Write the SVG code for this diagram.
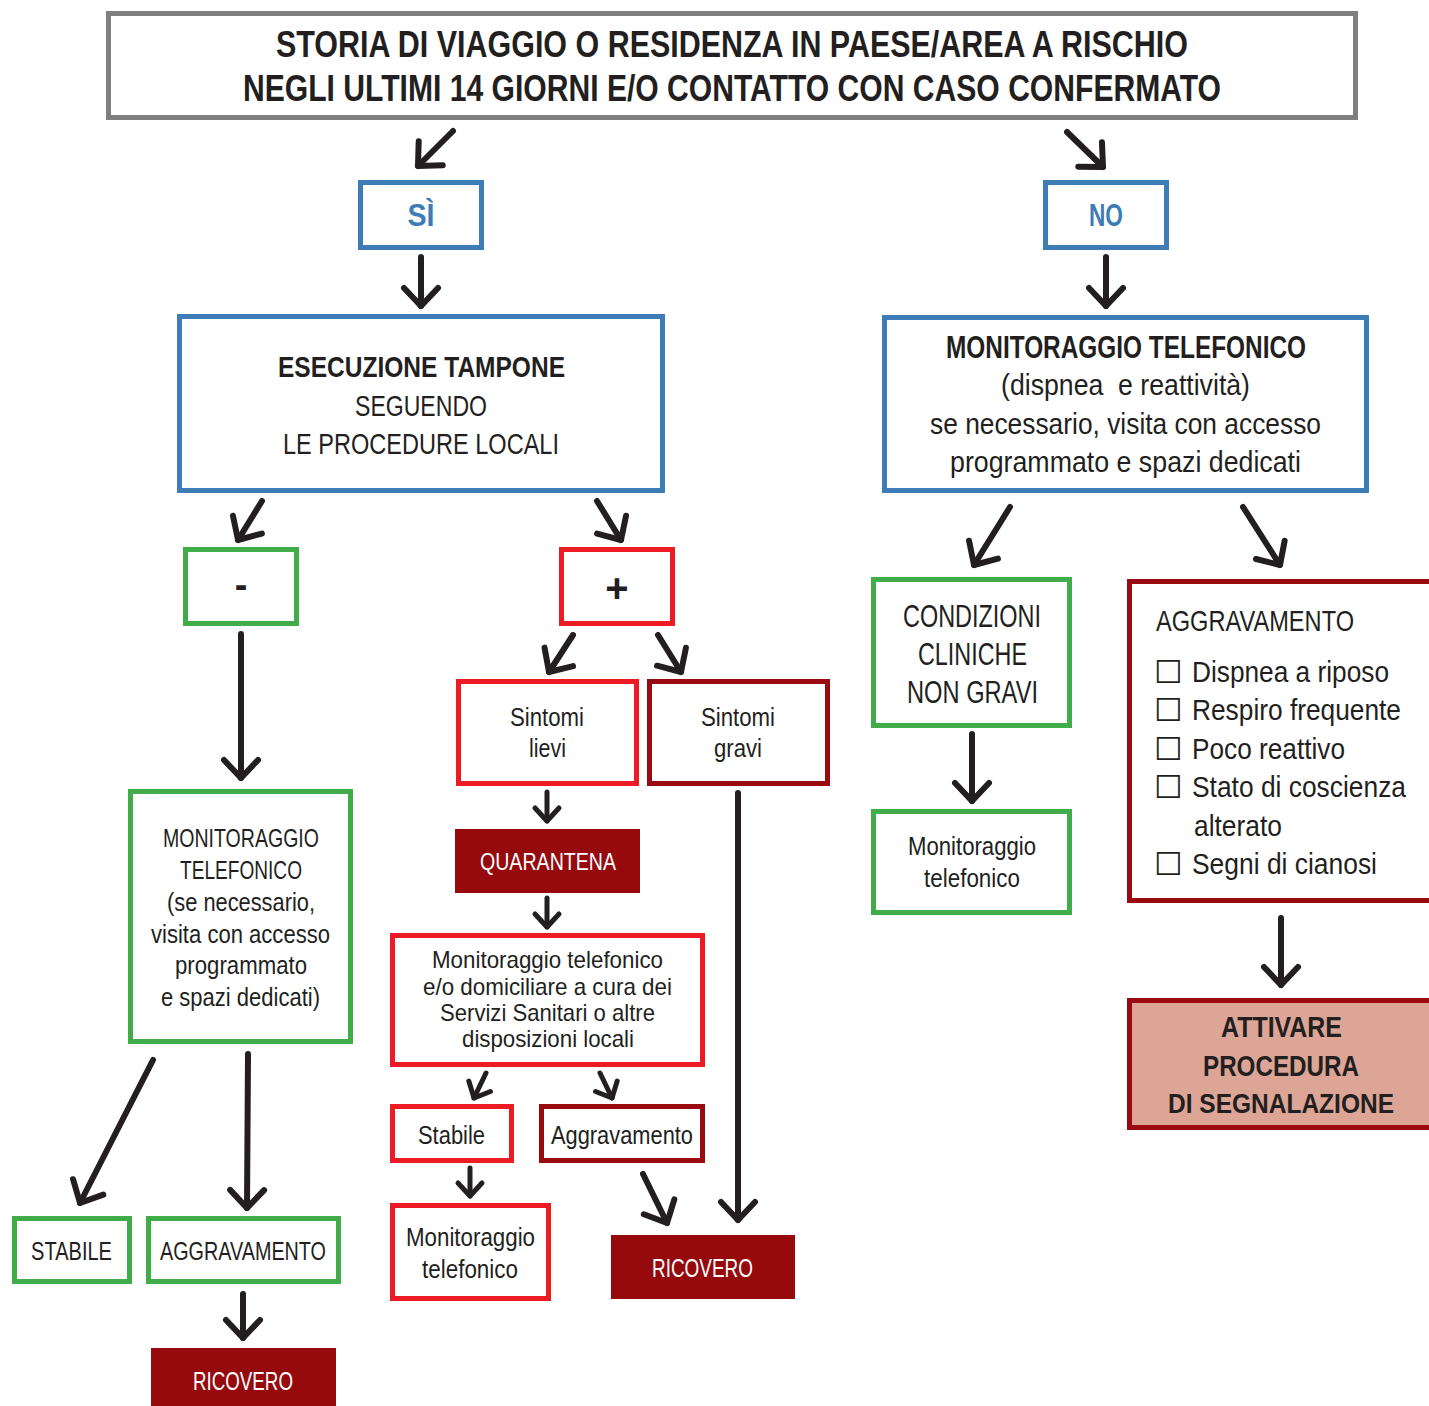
<svg xmlns="http://www.w3.org/2000/svg" width="1429" height="1406" viewBox="0 0 1429 1406">
<defs>
<style>
text{font-family:"Liberation Sans Narrow","Liberation Sans",Arial,sans-serif;fill:#231f20;text-anchor:middle;}
.b{font-weight:bold;}
.wt{fill:#ffffff;}
.bl{fill:#3d7cb6;}
.st{text-anchor:start;}
.cb{font-family:"DejaVu Sans",sans-serif;text-anchor:start;}
.box{fill:#ffffff;stroke-width:5;}
.gray{stroke:#7f7f7f;}
.blue{stroke:#3d7cb6;}
.green{stroke:#41ad4a;}
.red{stroke:#ed1c24;}
.dred{stroke:#990b11;}
.fillr{fill:#960a0e;}
.salmon{fill:#dca596;stroke:#990b11;stroke-width:5;}
.ar{fill:none;stroke:#231f20;stroke-width:6;stroke-linecap:round;marker-end:url(#ah);}
.ars{fill:none;stroke:#231f20;stroke-width:5;stroke-linecap:round;marker-end:url(#ahs);}
</style>
<marker id="ah" viewBox="-23 -23 28 46" refX="0" refY="0" markerWidth="28" markerHeight="46" markerUnits="userSpaceOnUse" orient="auto">
<path d="M-18,-17 L0,0 L-18,17" fill="none" stroke="#231f20" stroke-width="6" stroke-linecap="round" stroke-linejoin="round"/>
</marker>
<marker id="ahs" viewBox="-18 -18 22 36" refX="0" refY="0" markerWidth="22" markerHeight="36" markerUnits="userSpaceOnUse" orient="auto">
<path d="M-13,-12 L0,0 L-13,12" fill="none" stroke="#231f20" stroke-width="5" stroke-linecap="round" stroke-linejoin="round"/>
</marker>
</defs>
<rect width="1429" height="1406" fill="#ffffff"/>

<g id="connectors">
<line class="ar" x1="453" y1="131" x2="418" y2="166"/>
<line class="ar" x1="1067" y1="132" x2="1103" y2="167"/>
<line class="ar" x1="421" y1="257" x2="421" y2="306"/>
<line class="ar" x1="1106" y1="257" x2="1106" y2="306"/>
<line class="ar" x1="262" y1="501" x2="238" y2="540"/>
<line class="ar" x1="597" y1="501" x2="621" y2="540"/>
<line class="ar" x1="241" y1="634" x2="241" y2="778"/>
<line class="ar" x1="573" y1="635" x2="549" y2="672"/>
<line class="ar" x1="658" y1="635" x2="681" y2="672"/>
<line class="ars" x1="547" y1="792" x2="547" y2="821"/>
<line class="ars" x1="547" y1="898" x2="547" y2="927"/>
<line class="ar" x1="738" y1="793" x2="738" y2="1220"/>
<line class="ars" x1="486" y1="1073" x2="474" y2="1098"/>
<line class="ars" x1="600" y1="1073" x2="612" y2="1098"/>
<line class="ars" x1="470" y1="1168" x2="470" y2="1196"/>
<line class="ar" x1="643" y1="1174" x2="667" y2="1223"/>
<line class="ar" x1="153" y1="1060" x2="80" y2="1203"/>
<line class="ar" x1="248" y1="1054" x2="247" y2="1208"/>
<line class="ar" x1="243" y1="1294" x2="243" y2="1338"/>
<line class="ar" x1="1010" y1="507" x2="974" y2="565"/>
<line class="ar" x1="1243" y1="507" x2="1280" y2="565"/>
<line class="ar" x1="972" y1="734" x2="972" y2="801"/>
<line class="ar" x1="1281" y1="918" x2="1281" y2="985"/>
</g>

<g id="n-top">
<rect class="box gray" x="108.5" y="13.5" width="1247" height="104"/>
<text class="b" x="732" y="57" font-size="36" textLength="912" lengthAdjust="spacingAndGlyphs">STORIA DI VIAGGIO O RESIDENZA IN PAESE/AREA A RISCHIO</text>
<text class="b" x="732" y="101" font-size="36" textLength="978" lengthAdjust="spacingAndGlyphs">NEGLI ULTIMI 14 GIORNI E/O CONTATTO CON CASO CONFERMATO</text>
</g>

<g id="n-si">
<rect class="box blue" x="360.5" y="182.5" width="121" height="65"/>
<text class="b bl" x="421" y="226" font-size="31" textLength="27" lengthAdjust="spacingAndGlyphs">SÌ</text>
</g>

<g id="n-no">
<rect class="box blue" x="1045.5" y="182.5" width="121" height="65"/>
<text class="b bl" x="1106" y="226" font-size="31" textLength="34" lengthAdjust="spacingAndGlyphs">NO</text>
</g>

<g id="n-tampone">
<rect class="box blue" x="179.5" y="316.5" width="483" height="174"/>
<text class="b" x="421.5" y="377" font-size="30" textLength="287" lengthAdjust="spacingAndGlyphs">ESECUZIONE TAMPONE</text>
<text x="421" y="416" font-size="30" textLength="132" lengthAdjust="spacingAndGlyphs">SEGUENDO</text>
<text x="421" y="454" font-size="30" textLength="276" lengthAdjust="spacingAndGlyphs">LE PROCEDURE LOCALI</text>
</g>

<g id="n-monit-tel">
<rect class="box blue" x="884.5" y="317.5" width="482" height="173"/>
<text class="b" x="1126" y="358" font-size="31" textLength="360" lengthAdjust="spacingAndGlyphs">MONITORAGGIO TELEFONICO</text>
<text x="1125.5" y="395" font-size="30" textLength="249" lengthAdjust="spacingAndGlyphs" xml:space="preserve">(dispnea  e reattività)</text>
<text x="1125.5" y="434" font-size="30" textLength="391" lengthAdjust="spacingAndGlyphs">se necessario, visita con accesso</text>
<text x="1125.5" y="472" font-size="30" textLength="351" lengthAdjust="spacingAndGlyphs">programmato e spazi dedicati</text>
</g>

<g id="n-neg">
<rect class="box green" x="185.5" y="549.5" width="111" height="74"/>
<text class="b" x="241" y="598" font-size="38">-</text>
</g>

<g id="n-pos">
<rect class="box red" x="561.5" y="549.5" width="111" height="74"/>
<text class="b" x="617" y="602" font-size="40">+</text>
</g>

<g id="n-lievi">
<rect class="box red" x="458.5" y="681.5" width="178" height="102"/>
<text x="547" y="726" font-size="25" textLength="74" lengthAdjust="spacingAndGlyphs">Sintomi</text>
<text x="547.5" y="757" font-size="25" textLength="37" lengthAdjust="spacingAndGlyphs">lievi</text>
</g>

<g id="n-gravi">
<rect class="box dred" x="649.5" y="681.5" width="178" height="102"/>
<text x="738" y="726" font-size="25" textLength="74" lengthAdjust="spacingAndGlyphs">Sintomi</text>
<text x="738" y="757" font-size="25" textLength="48" lengthAdjust="spacingAndGlyphs">gravi</text>
</g>

<g id="n-quarantena">
<rect class="fillr" x="455" y="829" width="185" height="64"/>
<text class="wt" x="548" y="870" font-size="24" textLength="136" lengthAdjust="spacingAndGlyphs">QUARANTENA</text>
</g>

<g id="n-monit-dom">
<rect class="box red" x="392.5" y="935.5" width="310" height="129"/>
<text x="547.5" y="968" font-size="24" textLength="231" lengthAdjust="spacingAndGlyphs">Monitoraggio telefonico</text>
<text x="547.5" y="995" font-size="24" textLength="249" lengthAdjust="spacingAndGlyphs">e/o domiciliare a cura dei</text>
<text x="547.5" y="1021" font-size="24" textLength="215" lengthAdjust="spacingAndGlyphs">Servizi Sanitari o altre</text>
<text x="548" y="1047" font-size="24" textLength="172" lengthAdjust="spacingAndGlyphs">disposizioni locali</text>
</g>

<g id="n-stabile-r">
<rect class="box red" x="392.5" y="1106.5" width="119" height="54"/>
<text x="451.5" y="1144" font-size="25" textLength="67" lengthAdjust="spacingAndGlyphs">Stabile</text>
</g>

<g id="n-aggrav-r">
<rect class="box dred" x="541.5" y="1106.5" width="161" height="54"/>
<text x="622" y="1144" font-size="25" textLength="142" lengthAdjust="spacingAndGlyphs">Aggravamento</text>
</g>

<g id="n-monit-r">
<rect class="box red" x="392.5" y="1205.5" width="156" height="93"/>
<text x="470.5" y="1246" font-size="25" textLength="129" lengthAdjust="spacingAndGlyphs">Monitoraggio</text>
<text x="470" y="1278" font-size="25" textLength="96" lengthAdjust="spacingAndGlyphs">telefonico</text>
</g>

<g id="n-ricovero-r">
<rect class="fillr" x="611" y="1235" width="184" height="64"/>
<text class="wt" x="702.5" y="1277" font-size="25" textLength="101" lengthAdjust="spacingAndGlyphs">RICOVERO</text>
</g>

<g id="n-monit-g">
<rect class="box green" x="130.5" y="791.5" width="220" height="250"/>
<text x="241" y="847" font-size="25" textLength="156" lengthAdjust="spacingAndGlyphs">MONITORAGGIO</text>
<text x="241" y="879" font-size="25" textLength="122" lengthAdjust="spacingAndGlyphs">TELEFONICO</text>
<text x="241" y="911" font-size="25" textLength="148" lengthAdjust="spacingAndGlyphs">(se necessario,</text>
<text x="240.5" y="943" font-size="25" textLength="179" lengthAdjust="spacingAndGlyphs">visita con accesso</text>
<text x="241" y="974" font-size="25" textLength="132" lengthAdjust="spacingAndGlyphs">programmato</text>
<text x="240.5" y="1006" font-size="25" textLength="159" lengthAdjust="spacingAndGlyphs">e spazi dedicati)</text>
</g>

<g id="n-stabile-g">
<rect class="box green" x="14.5" y="1218.5" width="115" height="63"/>
<text x="71.5" y="1260" font-size="25" textLength="81" lengthAdjust="spacingAndGlyphs">STABILE</text>
</g>

<g id="n-aggrav-g">
<rect class="box green" x="148.5" y="1218.5" width="190" height="63"/>
<text x="243" y="1260" font-size="25" textLength="166" lengthAdjust="spacingAndGlyphs">AGGRAVAMENTO</text>
</g>

<g id="n-ricovero-g">
<rect class="fillr" x="151" y="1348" width="185" height="58"/>
<text class="wt" x="243" y="1390" font-size="25" textLength="100" lengthAdjust="spacingAndGlyphs">RICOVERO</text>
</g>

<g id="n-condizioni">
<rect class="box green" x="873.5" y="579.5" width="196" height="146"/>
<text x="972" y="627" font-size="31" textLength="138" lengthAdjust="spacingAndGlyphs">CONDIZIONI</text>
<text x="972.5" y="665" font-size="31" textLength="109" lengthAdjust="spacingAndGlyphs">CLINICHE</text>
<text x="972.5" y="703" font-size="31" textLength="131" lengthAdjust="spacingAndGlyphs">NON GRAVI</text>
</g>

<g id="n-monit-g2">
<rect class="box green" x="873.5" y="811.5" width="196" height="101"/>
<text x="972" y="855" font-size="25" textLength="128" lengthAdjust="spacingAndGlyphs">Monitoraggio</text>
<text x="972" y="887" font-size="25" textLength="96" lengthAdjust="spacingAndGlyphs">telefonico</text>
</g>

<g id="n-aggrav-list">
<rect class="box dred" x="1129.5" y="581.5" width="302" height="319"/>
<text class="st" x="1156" y="631" font-size="30" textLength="198" lengthAdjust="spacingAndGlyphs">AGGRAVAMENTO</text>
<text font-size="29"><tspan class="cb" x="1154" y="683" font-size="32">☐</tspan><tspan class="st" x="1192" y="682" textLength="197" lengthAdjust="spacingAndGlyphs">Dispnea a riposo</tspan></text>
<text font-size="29"><tspan class="cb" x="1154" y="721" font-size="32">☐</tspan><tspan class="st" x="1192" y="720" textLength="209" lengthAdjust="spacingAndGlyphs">Respiro frequente</tspan></text>
<text font-size="29"><tspan class="cb" x="1154" y="760" font-size="32">☐</tspan><tspan class="st" x="1192" y="759" textLength="153" lengthAdjust="spacingAndGlyphs">Poco reattivo</tspan></text>
<text font-size="29"><tspan class="cb" x="1154" y="798" font-size="32">☐</tspan><tspan class="st" x="1192" y="797" textLength="214" lengthAdjust="spacingAndGlyphs">Stato di coscienza</tspan></text>
<text class="st" x="1194" y="836" font-size="29" textLength="88" lengthAdjust="spacingAndGlyphs">alterato</text>
<text font-size="29"><tspan class="cb" x="1154" y="875" font-size="32">☐</tspan><tspan class="st" x="1192" y="874" textLength="185" lengthAdjust="spacingAndGlyphs">Segni di cianosi</tspan></text>
</g>

<g id="n-attivare">
<rect class="salmon" x="1129.5" y="1000.5" width="302" height="127"/>
<text class="b" x="1281.5" y="1037" font-size="29" textLength="121" lengthAdjust="spacingAndGlyphs">ATTIVARE</text>
<text class="b" x="1281" y="1076" font-size="29" textLength="156" lengthAdjust="spacingAndGlyphs">PROCEDURA</text>
<text class="b" x="1281" y="1113" font-size="28" textLength="226" lengthAdjust="spacingAndGlyphs">DI SEGNALAZIONE</text>
</g>
</svg>
